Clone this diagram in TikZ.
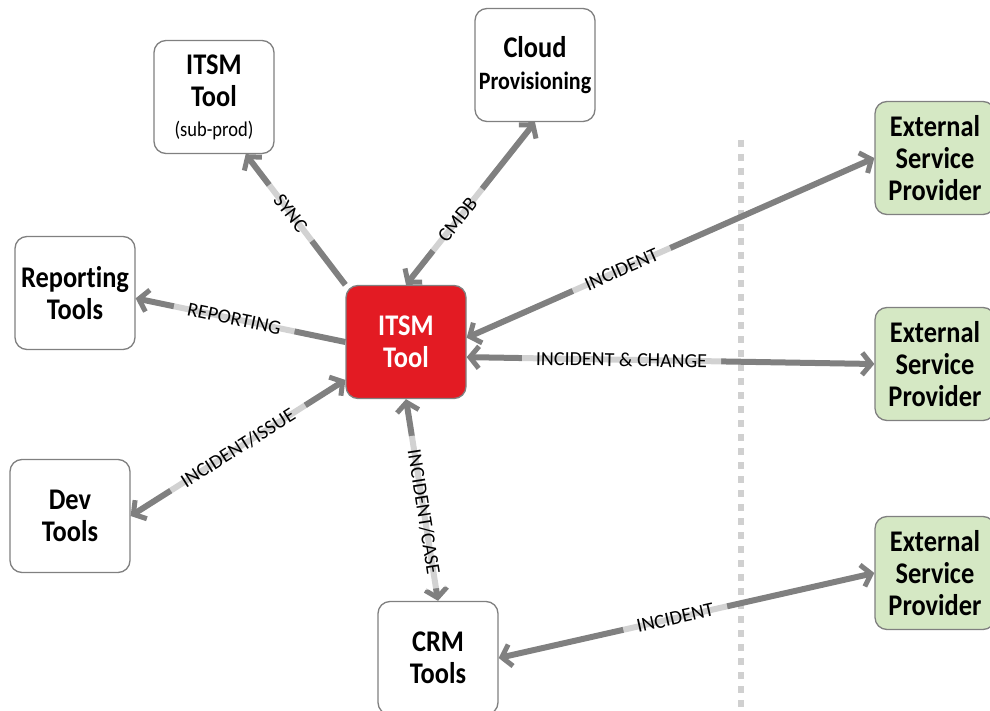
\documentclass[tikz,border=0pt]{standalone}
\usepackage{fontspec}
\setmainfont{Carlito}[Ligatures=NoCommon]
\newfontfamily\boxfont{Carlito}[FakeStretch=0.88,Ligatures=NoCommon]
\usetikzlibrary{arrows.meta}

\definecolor{itsmred}{HTML}{E31B23}
\definecolor{extgreen}{HTML}{D5E8C4}
\definecolor{linkgray}{HTML}{808080}
\definecolor{sepgray}{HTML}{D0D0D0}

\begin{document}
\begin{tikzpicture}[x=1pt,y=-1pt,
                    tool node/.style={draw=linkgray,line width=1.3pt,rounded corners=12pt,fill=white,
                      minimum width=120pt,minimum height=113pt,align=center,
                      font=\boxfont\fontsize{30}{32}\selectfont\bfseries},
                    main node/.style={tool node,fill=itsmred,text=white},
                    ext node/.style={tool node,fill=extgreen},
                    link/.style={draw=linkgray,line width=6pt},
                    lbl/.style={fill=white,fill opacity=0.65,text opacity=1,sloped,inner xsep=14pt,inner ysep=6pt,
                      font=\fontsize{20}{22}\selectfont}]

       \useasboundingbox (0,0) rectangle (990,711);

       \node[main node] (itsm) at (406,342) {ITSM\\Tool};
       \node[tool node] (sub) at (214,97) {ITSM\\Tool\\[-2pt]{\fontsize{21}{24}\selectfont\mdseries (sub-prod)}};
       \node[tool node] (cloud) at (535,65) {Cloud\\{\fontsize{25}{30}\selectfont Provisioning}};
       \node[tool node] (rep) at (75,293) {Reporting\\Tools};
       \node[tool node] (dev) at (70,516) {Dev\\Tools};
       \node[tool node] (crm) at (438,658) {CRM\\Tools};
       \node[ext node] (esp1) at (935,158) {External\\Service\\Provider};
       \node[ext node] (esp2) at (935,364) {External\\Service\\Provider};
       \node[ext node] (esp3) at (935,573) {External\\Service\\Provider};

       \coordinate (septop) at (741,140);
       \coordinate (sepbot) at (741,711);
       \draw[sepgray,line width=6pt,dash pattern=on 7pt off 7pt] (septop) -- (sepbot);

       \path[every edge/.style={link},
             >={Straight Barb[length=9pt,width=22pt,line width=5pt]}]
         (itsm.north west) edge [->] node[lbl,pos=0.55] {SYNC} (sub.-61)
         (itsm.north) edge [<->] node[lbl,pos=0.4] {CMDB} (cloud.south)
         (itsm.west) edge [->] node[lbl,pos=0.53] {REPORTING} (rep.-5)
         (itsm.212) edge [<->] node[lbl,pos=0.5] {INCIDENT/ISSUE} (dev.east)
         (itsm.south) edge [<->] node[lbl,pos=0.56] {INCIDENT/CASE} (crm.north)
         (itsm.4) edge [<->] node[lbl,pos=0.38] {INCIDENT} (esp1.west)
         (itsm.-14) edge [<->] node[lbl,pos=0.38] {INCIDENT \& CHANGE} (esp2.west)
         (crm.east) edge [<->] node[lbl,pos=0.47] {INCIDENT} (esp3.west);

\end{tikzpicture}
\end{document}
